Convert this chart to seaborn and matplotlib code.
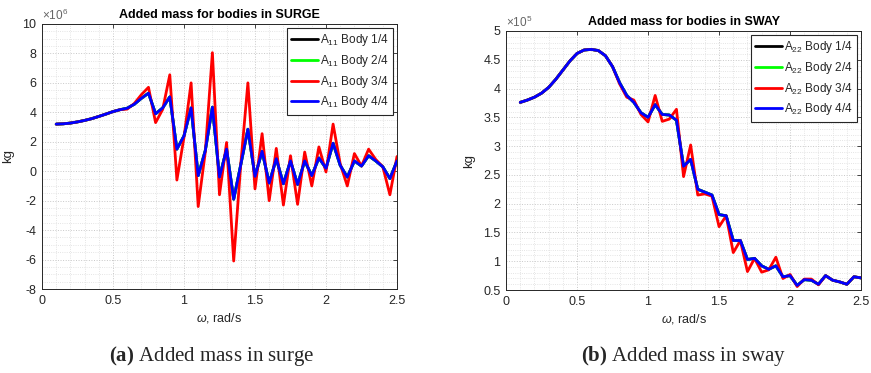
import numpy as np
import pandas as pd
import matplotlib
matplotlib.use("Agg")
import matplotlib.pyplot as plt
import seaborn as sns
from matplotlib.ticker import MultipleLocator, FuncFormatter

# ---------------- data ----------------
omega = [0.10, 0.15, 0.20, 0.25, 0.30, 0.35, 0.40, 0.45, 0.50, 0.55,
         0.60, 0.65, 0.70, 0.75, 0.80, 0.85, 0.90, 0.95, 1.00, 1.05,
         1.10, 1.15, 1.20, 1.25, 1.30, 1.35, 1.40, 1.45, 1.50, 1.55,
         1.60, 1.65, 1.70, 1.75, 1.80, 1.85, 1.90, 1.95, 2.00, 2.05,
         2.10, 2.15, 2.20, 2.25, 2.30, 2.35, 2.40, 2.45, 2.50]

# surge added mass, x 1e6 kg (bodies 1, 2 and 4 coincide)
surge_body124 = [3.20, 3.22, 3.27, 3.35, 3.45, 3.57, 3.72, 3.88, 4.05, 4.18,
                 4.28, 4.55, 4.95, 5.30, 3.90, 4.30, 5.05, 1.50, 2.40, 4.30,
                 -0.30, 1.40, 4.35, -0.40, 1.50, -1.90, 0.45, 2.85, -0.35, 1.35,
                 -0.80, 0.85, -0.85, 0.70, -0.90, 0.70, -0.30, 0.90, 0.20, 1.90,
                 0.40, -0.40, 0.70, 0.35, 1.05, 0.70, 0.30, -0.50, 0.70]
surge_body3 = [3.20, 3.22, 3.27, 3.35, 3.45, 3.57, 3.72, 3.88, 4.05, 4.18,
               4.22, 4.60, 5.20, 5.70, 3.30, 4.20, 6.55, -0.60, 2.30, 6.00,
               -2.40, 1.30, 8.05, -1.60, 1.95, -6.10, 0.50, 6.00, -1.20, 2.55,
               -2.00, 1.55, -2.30, 1.05, -2.25, 1.30, -1.00, 1.65, -0.05, 3.20,
               0.50, -1.00, 1.20, 0.35, 1.50, 0.80, 0.30, -1.60, 1.00]

# sway added mass, x 1e5 kg
sway_body124 = [3.76, 3.80, 3.85, 3.92, 4.02, 4.16, 4.32, 4.48, 4.61, 4.67,
                4.68, 4.66, 4.57, 4.38, 4.10, 3.88, 3.76, 3.58, 3.50, 3.72,
                3.55, 3.54, 3.45, 2.65, 2.77, 2.25, 2.20, 2.15, 1.81, 1.79,
                1.36, 1.36, 1.03, 1.05, 0.92, 0.86, 0.92, 0.73, 0.75, 0.58,
                0.68, 0.67, 0.60, 0.75, 0.67, 0.64, 0.60, 0.73, 0.71]
sway_body3 = [3.76, 3.80, 3.85, 3.92, 4.02, 4.16, 4.32, 4.48, 4.61, 4.67,
              4.68, 4.66, 4.57, 4.38, 4.08, 3.85, 3.80, 3.55, 3.42, 3.88,
              3.43, 3.47, 3.64, 2.47, 3.02, 2.15, 2.17, 2.13, 1.60, 1.79,
              1.15, 1.36, 0.82, 1.05, 0.81, 0.85, 1.07, 0.70, 0.77, 0.56,
              0.69, 0.69, 0.59, 0.75, 0.67, 0.64, 0.60, 0.73, 0.71]

bodies = ["Body 1/4", "Body 2/4", "Body 3/4", "Body 4/4"]
colors = ["#000000", "#00ff00", "#ff0000", "#0000ff"]

titles = ["Added mass for bodies in SURGE", "Added mass for bodies in SWAY"]
captions = [r"$\mathbf{(a)}$ Added mass in surge", r"$\mathbf{(b)}$ Added mass in sway"]
subscripts = ["11", "22"]
exponents = [6, 5]

# ---------------- style ----------------
sns.set_theme(style="white")
plt.rcParams["font.family"] = ["Liberation Sans", "DejaVu Sans"]
plt.rcParams["axes.unicode_minus"] = False
plt.rcParams["mathtext.fontset"] = "custom"
plt.rcParams["mathtext.rm"] = "Liberation Sans"
plt.rcParams["mathtext.it"] = "Liberation Sans:italic"
plt.rcParams["mathtext.bf"] = "Liberation Serif:bold"

fig = plt.figure(figsize=(8.71, 3.73), dpi=100)
ax1 = fig.add_axes([0.0482, 0.2252, 0.4076, 0.7105])
ax2 = fig.add_axes([0.5810, 0.2225, 0.4076, 0.6944])

axcol = "#262626"


def build_df(v124, v3, scale):
    frames = []
    for b in bodies:
        vals = v3 if b == "Body 3/4" else v124
        frames.append(pd.DataFrame({"omega": omega,
                                    "value": np.array(vals) * scale,
                                    "body": b}))
    return pd.concat(frames, ignore_index=True)


panels = [
    (ax1, build_df(surge_body124, surge_body3, 1e6), (-8e6, 10e6), 2e6, 0.5e6),
    (ax2, build_df(sway_body124, sway_body3, 1e5), (0.5e5, 5e5), 0.5e5, 0.1e5),
]

for i, (ax, df, ylim, ymaj, ymin) in enumerate(panels):
    sns.lineplot(data=df, x="omega", y="value", hue="body", hue_order=bodies,
                 palette=dict(zip(bodies, colors)), linewidth=2.0, ax=ax,
                 legend=False, sort=False, estimator=None)
    ax.set_xlim(0, 2.5)
    ax.set_ylim(*ylim)
    ax.xaxis.set_major_locator(MultipleLocator(0.5))
    ax.xaxis.set_minor_locator(MultipleLocator(0.1))
    ax.yaxis.set_major_locator(MultipleLocator(ymaj))
    ax.yaxis.set_minor_locator(MultipleLocator(ymin))
    sc = 10.0 ** exponents[i]
    ax.yaxis.set_major_formatter(FuncFormatter(lambda v, p, sc=sc: f"{round(v / sc, 6):g}"))
    ax.xaxis.set_major_formatter(FuncFormatter(lambda v, p: f"{round(v, 6):g}"))
    ax.grid(which="major", linestyle=":", linewidth=0.7, color="#c8c8c8")
    ax.grid(which="minor", linestyle=":", linewidth=0.6, color="#dcdcdc")
    ax.set_axisbelow(True)
    ax.tick_params(which="major", direction="in", length=3, width=0.6,
                   top=True, right=True, colors=axcol, labelsize=9,
                   labelcolor=axcol, pad=4)
    ax.tick_params(which="minor", length=0)
    for sp in ax.spines.values():
        sp.set_color(axcol)
        sp.set_linewidth(0.7)
    ax.text(0.0, 1.005, r"$\times10^{%d}$" % exponents[i], transform=ax.transAxes,
            ha="left", va="bottom", fontsize=8.5, color="#666666")
    ax.set_xlabel(r"$\it{\omega}$, rad/s", fontsize=9, color=axcol, labelpad=3)
    ax.set_ylabel("kg", fontsize=9.5, color=axcol, labelpad=6)
    ax.set_title(titles[i], fontsize=9, fontweight="bold", color="black", pad=4)
    labels = [r"A$_{%s}$ %s" % (subscripts[i], b) for b in bodies]
    leg = ax.legend(handles=ax.lines[:4], labels=labels, loc="upper right",
                    fontsize=8.5, frameon=True, fancybox=False, framealpha=1,
                    edgecolor="#262626", handlelength=2.3, handletextpad=0.15,
                    labelspacing=0.4, borderpad=0.35, borderaxespad=0.35)
    leg.get_frame().set_linewidth(0.8)

fig.text(0.2425, 0.045, captions[0], ha="center", va="center", fontsize=15,
         family="Liberation Serif")
fig.text(0.785, 0.045, captions[1], ha="center", va="center", fontsize=15,
         family="Liberation Serif")

fig.savefig("out.png", dpi=100)
